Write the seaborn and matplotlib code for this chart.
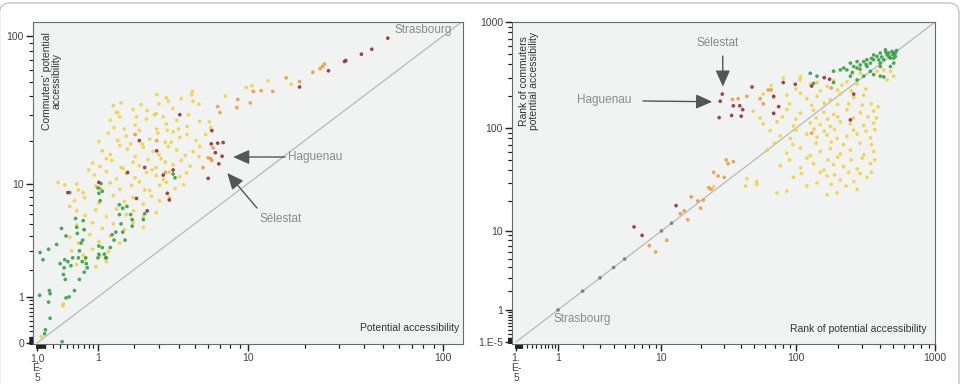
import matplotlib
matplotlib.use("Agg")
import matplotlib.pyplot as plt
import seaborn as sns
import numpy as np
import pandas as pd
from matplotlib.patches import FancyBboxPatch
from matplotlib.transforms import IdentityTransform

# ---------------- data ----------------
# left panel: potential accessibility vs commuters' potential accessibility
left_green = [(0.03, 1.05), (0.035, 2.9), (0.07, 2.5), (0.14, 3.1), (0.15, 1.2), (0.16, 1.1),
              (0.14, 0.85), (0.16, 0.45), (0.09, 0.15), (0.10, 0.22), (0.33, 0.02), (0.25, 3.4),
              (0.32, 4.6), (0.39, 4.0), (0.30, 2.3), (0.37, 2.5), (0.36, 2.1), (0.42, 2.4),
              (0.35, 1.8), (0.38, 1.6), (0.39, 0.97), (0.44, 1.0), (0.53, 1.2), (0.47, 2.2),
              (0.50, 2.6), (0.55, 5.5), (0.58, 4.2), (0.62, 3.0), (0.60, 2.6), (0.67, 2.4),
              (0.74, 2.6), (0.75, 2.3), (0.71, 1.9), (0.62, 1.6), (0.77, 2.1), (0.68, 3.7),
              (0.65, 3.5), (0.71, 4.5), (1.0, 2.6), (1.02, 2.8), (1.15, 2.8), (1.18, 2.6),
              (1.2, 2.6), (1.1, 3.2), (1.02, 3.3), (1.02, 8.5), (1.0, 9.3), (1.1, 8.8),
              (1.05, 7.5), (1.3, 3.2), (1.35, 4.1), (1.45, 4.3), (1.4, 3.7), (1.55, 5.9),
              (1.65, 6.6), (1.6, 5.0), (1.65, 4.3), (1.72, 3.7), (1.78, 6.8), (1.9, 5.9),
              (1.95, 4.8), (2.35, 5.4), (2.4, 6.0), (1.95, 5.4), (1.07, 10.0), (0.45, 8.6),
              (3.7, 11.7), (3.8, 11.0), (1.55, 7.0), (0.69, 5.3), (0.57, 4.7)]

left_yellow = [(1.38, 34.5), (1.47, 31), (1.6, 36), (1.98, 32.5), (2.26, 35), (2.88, 30.5),
               (3.44, 37), (3.69, 33), (2.5, 32), (1.5, 31),
               (3.35, 39), (4.8, 40.8), (4.85, 43), (2.9, 41), (4.9, 37), (5.3, 35.3),
               (4.15, 38.5), (3.0, 35.5),
               (1.3, 27.5), (1.4, 24.5), (1.56, 29), (2.05, 25.5), (2.47, 28), (2.9, 24),
               (3.2, 29), (3.35, 26), (3.9, 27.5), (4.5, 25), (5.35, 27), (6.1, 26.8),
               (2.8, 30), (2.1, 29), (4.6, 30), (6.2, 24.5), (1.7, 24),
               (1.25, 22.5), (1.5, 20), (1.76, 21.5), (2.2, 23.5), (2.6, 20.5), (2.95, 22.5),
               (3.3, 19.5), (3.7, 23), (4.07, 21), (4.5, 22), (5.1, 20), (4.0, 24),
               (3.4, 23.5), (2.3, 19), (1.9, 19), (3.6, 19.5), (1.02, 19.7), (5.8, 22),
               (1.1, 17), (1.3, 16), (1.56, 18.5), (1.8, 17.5), (2.05, 15.5), (2.35, 18),
               (2.74, 16.8), (3.0, 16), (3.45, 18.2), (3.9, 17.2), (4.4, 15.8), (4.9, 16.8),
               (5.3, 15.5), (5.35, 18.3), (3.1, 15), (1.2, 15),
               (0.88, 14), (1.05, 13.2), (1.34, 14.6), (1.66, 12.8), (1.98, 14.2), (2.2, 13.4),
               (2.53, 14.8), (2.88, 13), (3.3, 14.2), (3.7, 13.6), (4.15, 14.6), (4.7, 13.3),
               (1.6, 13), (2.7, 12.5), (0.8, 12.5),
               (0.92, 11.5), (1.2, 12.2), (1.47, 10.8), (1.76, 11.8), (2.05, 11), (2.47, 12),
               (2.88, 11.4), (3.2, 10.7), (3.5, 12.1), (4.07, 11.2), (4.47, 11.9),
               (0.27, 10.2), (0.37, 9.8), (0.6, 9.0), (0.95, 9.6), (1.3, 10.1), (1.56, 9.1),
               (1.93, 9.7), (2.2, 10.3), (2.6, 8.9), (3.03, 9.7), (3.35, 10.2), (3.8, 9.2),
               (4.3, 9.8), (2.4, 9), (0.57, 9.9), (0.69, 8.6),
               (0.53, 7.5), (0.72, 7.9), (1.02, 7.2), (1.38, 8.2), (1.7, 7.4), (1.98, 7.9),
               (2.35, 7.1), (2.67, 8.1), (3.03, 7.5), (3.5, 7.9), (0.45, 6.8),
               (0.57, 6.3), (0.73, 5.8), (0.95, 6.4), (1.2, 5.7), (1.47, 6.5), (1.76, 5.9),
               (2.0, 6.3), (2.35, 5.7), (2.88, 6.1),
               (0.57, 4.9), (0.7, 4.5), (0.88, 5.1), (1.1, 4.6), (1.38, 5.0), (1.7, 4.5),
               (1.98, 5.1), (2.35, 4.7),
               (0.45, 3.9), (0.6, 3.5), (0.82, 4.1), (1.02, 3.6), (1.3, 4.0), (1.56, 3.5),
               (0.48, 3.0), (0.69, 2.75), (0.88, 3.1), (1.05, 2.7), (1.25, 2.95),
               (0.57, 2.25), (0.72, 2.5), (0.95, 2.15), (1.2, 2.4),
               (0.35, 0.8), (0.34, 0.75), (0.05, 0.1),
               (12.8, 50.6), (9.8, 45.7), (17, 48), (10.5, 47), (7.5, 40)]

left_orange = [(24.7, 63), (25.3, 65.5), (24, 61), (22, 57.7), (18.8, 50), (16, 53),
               (13.6, 43), (11.8, 43.5), (10.7, 43), (8.8, 38), (10.3, 36), (8.7, 33.5),
               (7.0, 31), (6.8, 34), (6.4, 17.8), (6.2, 15), (6.0, 15.2), (6.3, 14.6),
               (5.6, 13), (2.05, 22), (3.3, 12), (2.9, 20), (1.05, 9.2)]

left_red = [(53, 97), (44, 82), (39, 76), (32.5, 69), (32, 68), (26.5, 59), (18.8, 46),
            (6.25, 19), (6.8, 19.2), (7.3, 19.4), (6.6, 16.5), (7.2, 15.6), (6.9, 13.8),
            (6.0, 10.9), (4.07, 30), (6.3, 23.4), (2.2, 20), (2.4, 13), (2.5, 6.3),
            (3.5, 7.6), (2.1, 7.8), (1.02, 10.2), (3.4, 8.5), (3.2, 11.5), (1.8, 12),
            (2.9, 17), (0.42, 8.6), (3.7, 12.5)]

# right panel: rank of potential accessibility vs rank of commuters' accessibility
right_gray = [(1, 1), (2, 2), (3, 3), (4, 4), (5, 5), (10, 10), (12, 12)]

right_red = [(6, 11), (7, 9), (13, 18), (29, 210), (28, 180), (27.5, 126), (35, 163),
             (39, 163), (41, 150), (34, 132), (40, 130), (48, 245), (69, 200), (69, 138),
             (75, 160), (81, 270), (247, 120), (261, 210), (160, 300), (99, 260),
             (130, 250), (175, 290)]

right_orange = [(8, 7), (9, 6), (11, 8), (14, 15), (15, 16), (16, 13), (17, 22), (19, 20),
                (20, 17), (21, 20.5), (23, 27), (24, 26), (25, 38), (27, 35), (30, 34),
                (31, 50), (32, 46), (35, 48), (34.5, 187), (38, 190), (63, 230), (66, 230),
                (55, 190), (130, 90), (180, 240), (58, 170), (44, 200)]

right_yellow = [(107, 286), (127, 260), (142, 270), (168, 248), (187, 280), (215, 255),
                (233, 275), (276, 262),
                (58, 210), (69, 195), (86, 205), (108, 214), (120, 190), (142, 200),
                (177, 186), (209, 210), (261, 195), (308, 205),
                (49, 145), (69, 140), (86, 150), (108, 139), (134, 148), (159, 142),
                (187, 135), (233, 150), (291, 140), (363, 145),
                (58, 110), (73, 115), (96, 105), (127, 112), (150, 108), (177, 104),
                (209, 115), (247, 110), (308, 106), (363, 112),
                (77, 85), (91, 80), (120, 88), (142, 82), (168, 86), (198, 80), (233, 84),
                (276, 88), (344, 81),
                (62, 62), (86, 58), (108, 65), (127, 55), (150, 60), (177, 64), (209, 57),
                (247, 62), (308, 56), (363, 60),
                (77, 44), (108, 42), (134, 46), (159, 40), (187, 45), (221, 43), (276, 41),
                (344, 46),
                (44, 33), (52, 31), (96, 34), (142, 30), (168, 35), (209, 32), (261, 31),
                (325, 34),
                (73, 24), (86, 25), (168, 23), (198, 24), (276, 26),
                (43, 28), (52, 29), (81, 298), (66, 253), (108, 305), (291, 331),
                (384, 345), (429, 355), (479, 345), (506, 310), (453, 286), (25, 27.6),
                (55, 125), (80, 128), (100, 122), (140, 125), (170, 122), (200, 128),
                (260, 125), (330, 128), (380, 125),
                (65, 95), (100, 96), (135, 98), (160, 94), (190, 97), (260, 96), (320, 94),
                (370, 97),
                (70, 72), (95, 70), (140, 72), (180, 74), (220, 70), (290, 72), (350, 70),
                (90, 50), (120, 52), (170, 50), (200, 53), (250, 50), (300, 52), (370, 50),
                (110, 37), (150, 38), (190, 36), (240, 38), (290, 37), (350, 38),
                (120, 28), (180, 29), (230, 28),
                (90, 170), (130, 165), (160, 172), (200, 168), (240, 170), (300, 165),
                (350, 170), (390, 160),
                (100, 235), (150, 225), (200, 230), (250, 225), (320, 235)]

right_green = [(506, 511), (520, 475), (479, 458), (453, 490), (429, 442), (405, 411),
               (384, 475), (363, 442), (344, 411), (325, 382), (308, 425), (291, 395),
               (276, 370), (261, 382), (247, 411), (233, 355), (221, 370), (209, 355),
               (187, 345), (405, 310), (429, 305), (506, 458), (520, 511), (492, 529),
               (466, 511), (441, 548), (405, 511), (363, 490), (325, 442), (276, 425),
               (134, 265), (142, 310), (247, 310), (308, 310), (127, 330), (479, 382),
               (506, 411), (405, 382), (344, 345), (276, 286), (187, 270), (363, 320),
               (530, 540), (500, 495), (470, 470), (445, 520), (415, 470), (395, 440),
               (350, 455), (320, 400), (290, 360), (255, 335)]

palette = {"yellow": "#f3d23a", "orange": "#f09a3a", "green": "#35a043",
           "red": "#9c2a3e", "gray": "#7a7a7a"}


def frame(groups):
    parts = []
    for name, pts in groups:
        arr = np.array(pts, dtype=float)
        parts.append(pd.DataFrame({"x": arr[:, 0], "y": arr[:, 1], "group": name}))
    return pd.concat(parts, ignore_index=True)


def fwd(v):
    return np.log10(np.asarray(v, dtype=float) + 1.0)


def inv(v):
    return 10.0 ** np.asarray(v, dtype=float) - 1.0


sns.set_style("white", {"xtick.bottom": True, "ytick.left": True,
                        "xtick.direction": "out", "ytick.direction": "out"})
plt.rcParams["font.family"] = ["Liberation Sans", "DejaVu Sans"]

fig = plt.figure(figsize=(9.69, 3.84), dpi=100)
ax1 = fig.add_axes([33 / 969, 1 - 344 / 384, (463 - 33) / 969, (344 - 22) / 384])
ax2 = fig.add_axes([512 / 969, 1 - 344 / 384, (935 - 512) / 969, (344 - 22) / 384])

df_left = frame([("yellow", left_yellow), ("orange", left_orange),
                 ("green", left_green), ("red", left_red)])
df_right = frame([("yellow", right_yellow), ("orange", right_orange),
                  ("green", right_green), ("red", right_red), ("gray", right_gray)])

near_zero = [k * 10.0 ** e for e in range(-5, -1) for k in range(1, 10)]
minor_small = near_zero + [k / 10 for k in range(1, 10)] + list(range(2, 10)) + list(range(20, 100, 10))
minor_big = minor_small + list(range(200, 1000, 100))

for ax, df, lims in [(ax1, df_left, ((-0.045, 126), (-0.015, 124))),
                     (ax2, df_right, ((-0.064, 1000), (-0.042, 1000)))]:
    ax.set_facecolor("#f1f2f2")
    sns.scatterplot(data=df, x="x", y="y", hue="group", palette=palette, s=7,
                    linewidth=0, alpha=0.9, legend=False, ax=ax, zorder=3)
    ax.set_xscale("function", functions=(fwd, inv))
    ax.set_yscale("function", functions=(fwd, inv))
    ax.set_xlim(*lims[0])
    ax.set_ylim(*lims[1])
    top = min(lims[0][1], lims[1][1])
    ax.plot([0, top * 1.02], [0, top * 1.02], color="#b8b8b8", lw=0.9, zorder=2)
    ax.set_xlabel("")
    ax.set_ylabel("")
    for sp in ax.spines.values():
        sp.set_color("#6a6a6a")
        sp.set_linewidth(0.8)

# left ticks
major_left = [0, 1, 10, 100]
ax1.set_xticks(major_left)
ax1.set_xticklabels(["1,0\nE-\n5", "1", "10", "100"], linespacing=1.0)
ax1.set_yticks(major_left)
ax1.set_yticklabels(["0", "1", "10", "100"])
ax1.set_xticks(minor_small, minor=True)
ax1.set_yticks(minor_small, minor=True)

# right ticks
major_right = [0, 1, 10, 100, 1000]
ax2.set_xticks(major_right)
ax2.set_xticklabels(["1.\nE-\n5", "1", "10", "100", "1000"], linespacing=1.0)
ax2.set_yticks(major_right)
ax2.set_yticklabels(["1.E-5", "1", "10", "100", "1000"])
ax2.set_xticks(minor_big, minor=True)
ax2.set_yticks(minor_big, minor=True)

for ax in (ax1, ax2):
    ax.tick_params(which="both", bottom=True, left=True, top=False, right=False,
                   direction="out", color="#222")
    ax.tick_params(which="major", length=5, width=0.9, labelsize=7.5,
                   labelcolor="#444", pad=1.5)
    ax.tick_params(which="minor", length=3, width=0.8)

# explicit tick marks along the axes (same positions as the tick locators)
for ax, major, minor in [(ax1, major_left, minor_small), (ax2, major_right, minor_big)]:
    h = ax.get_position().height * 384
    w = ax.get_position().width * 969
    ax.vlines(major, 0, -6 / h, transform=ax.get_xaxis_transform(), clip_on=False,
              color="#222", lw=0.9)
    ax.vlines(minor, 0, -3.5 / h, transform=ax.get_xaxis_transform(), clip_on=False,
              color="#222", lw=0.8)
    ax.hlines(major, 0, -6 / w, transform=ax.get_yaxis_transform(), clip_on=False,
              color="#222", lw=0.9)
    ax.hlines(minor, 0, -3.5 / w, transform=ax.get_yaxis_transform(), clip_on=False,
              color="#222", lw=0.8)

# axis titles inside the plot areas
lab = dict(fontsize=7.5, color="#333")
fig.text(52 / 969, 1 - 32 / 384, "Commuters' potential\naccessibility", rotation=90,
         ha="center", va="top", multialignment="center", linespacing=1.0, **lab)
fig.text(459 / 969, 1 - 328 / 384, "Potential accessibility", ha="right", va="center", **lab)
fig.text(529 / 969, 1 - 32 / 384, "Rank of commuters\npotential accessibility", rotation=90,
         ha="center", va="top", multialignment="center", linespacing=1.0, **lab)
fig.text(927 / 969, 1 - 329 / 384, "Rank of potential accessibility", ha="right", va="center", **lab)

# annotations
note = dict(fontsize=8.5, color="#8a8a8a")
arrow = dict(arrowstyle="-|>,head_length=0.9,head_width=0.4", color="#555", lw=1.0,
             mutation_scale=11, shrinkA=0, shrinkB=0)
fig.text(452 / 969, 1 - 30 / 384, "Strasbourg", ha="right", va="center", **note)
fig.text(288 / 969, 1 - 157 / 384, "Haguenau", ha="left", va="center", **note)
fig.text(260 / 969, 1 - 219 / 384, "Sélestat", ha="left", va="center", **note)
ax1.annotate("", xy=(8.3, 15.4), xycoords="data", xytext=(285 / 969, 1 - 157 / 384),
             textcoords="figure fraction", arrowprops=arrow)
ax1.annotate("", xy=(7.7, 11.9), xycoords="data", xytext=(257 / 969, 1 - 208 / 384),
             textcoords="figure fraction", arrowprops=arrow)

fig.text(718 / 969, 1 - 43 / 384, "Sélestat", ha="center", va="center", **note)
fig.text(604 / 969, 1 - 100 / 384, "Haguenau", ha="center", va="center", **note)
fig.text(554 / 969, 1 - 319 / 384, "Strasbourg", ha="left", va="center", **note)
ax2.annotate("", xy=(29.3, 247), xycoords="data", xytext=(722.7 / 969, 1 - 56 / 384),
             textcoords="figure fraction", arrowprops=arrow)
ax2.annotate("", xy=(24.4, 178), xycoords="data", xytext=(643 / 969, 1 - 101 / 384),
             textcoords="figure fraction", arrowprops=arrow)

# rounded outer frame
box = FancyBboxPatch((-0.5, -30), 959.5, 411, boxstyle="round,pad=0,rounding_size=10",
                     transform=IdentityTransform(), fill=False, edgecolor="#c4c4c4", lw=1.0)
fig.add_artist(box)

fig.savefig("out.png", dpi=100)
